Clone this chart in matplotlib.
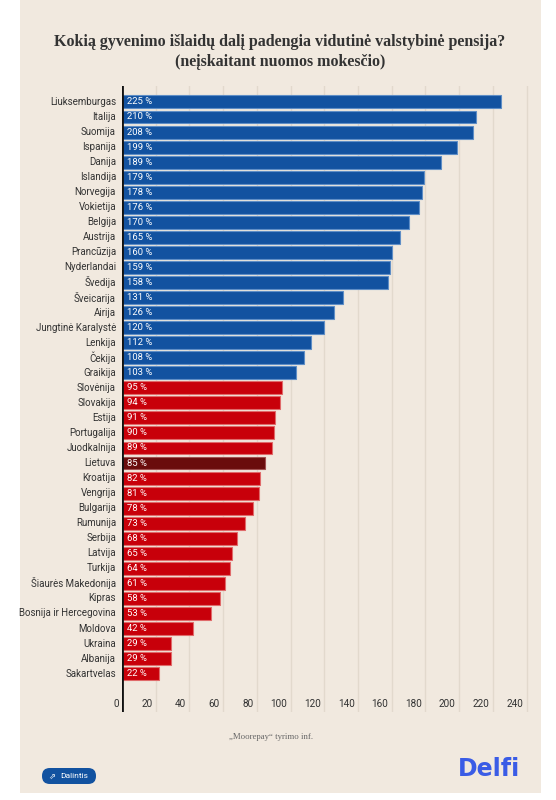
import matplotlib
matplotlib.use("Agg")
import matplotlib.pyplot as plt
from matplotlib.patches import Rectangle, FancyBboxPatch

# data
countries = ["Liuksemburgas", "Italija", "Suomija", "Ispanija", "Danija", "Islandija",
             "Norvegija", "Vokietija", "Belgija", "Austrija", "Prancūzija", "Nyderlandai",
             "Švedija", "Šveicarija", "Airija", "Jungtinė Karalystė", "Lenkija", "Čekija",
             "Graikija", "Slovėnija", "Slovakija", "Estija", "Portugalija", "Juodkalnija",
             "Lietuva", "Kroatija", "Vengrija", "Bulgarija", "Rumunija", "Serbija", "Latvija",
             "Turkija", "Šiaurės Makedonija", "Kipras", "Bosnija ir Hercegovina", "Moldova",
             "Ukraina", "Albanija", "Sakartvelas"]
values = [225, 210, 208, 199, 189, 179, 178, 176, 170, 165, 160, 159, 158, 131, 126, 120,
          112, 108, 103, 95, 94, 91, 90, 89, 85, 82, 81, 78, 73, 68, 65, 64, 61, 58, 53,
          42, 29, 29, 22]
x_ticks = [0, 20, 40, 60, 80, 100, 120, 140, 160, 180, 200, 220, 240]
highlight = "Lietuva"

BG = "#f1e9df"
BLUE = "#1252a0"
RED = "#c8000a"
DARK = "#6a0c0c"

label_font = ["Roboto", "DejaVu Sans"]
serif_font = ["Liberation Serif", "DejaVu Serif"]

W, H = 556, 800
fig = plt.figure(figsize=(W / 100, H / 100), dpi=100, facecolor="white")

# card background
fig.add_artist(Rectangle((20 / W, 1 - 793 / H), 521 / W, 793 / H, transform=fig.transFigure,
                         facecolor=BG, edgecolor="none", zorder=0))

ax = fig.add_axes([122 / W, 1 - 712 / H, (535 - 122) / W, (712 - 86) / H])
ax.set_facecolor("none")

n = len(countries)
ypos = list(range(n))
colors = []
for c, v in zip(countries, values):
    if c == highlight:
        colors.append(DARK)
    elif v >= 100:
        colors.append(BLUE)
    else:
        colors.append(RED)
edge_map = {BLUE: "#5f8ec6", RED: "#e06a6a", DARK: "#a05050"}
edges = [edge_map[col] for col in colors]

ax.barh(ypos, values, height=0.86, color=colors, edgecolor=edges, linewidth=0.8, zorder=3)

for y, c, v in zip(ypos, countries, values):
    ax.text(-3.5, y, c, ha="right", va="center", fontsize=7, color="#333333",
            family=label_font)
    ax.text(3, y, f"{v} %", ha="left", va="center", fontsize=6.8, color="white",
            family=label_font, zorder=4)

ax.set_xlim(0, 245)
ax.set_ylim(n + 1.55, -1.06)

for t in x_ticks:
    if t > 0:
        ax.axvline(t, color="#e2d9cd", linewidth=1, zorder=1)
    ax.text(t - 2, n + 1.0, str(t), ha="right", va="center", fontsize=7.2, color="#333333",
            family=label_font)
ax.axvline(0, color="#111111", linewidth=2, zorder=5)

ax.set_xticks([])
ax.set_yticks([])
for s in ax.spines.values():
    s.set_visible(False)

# title
fig.text(280 / W, 1 - 42 / H, "Kokią gyvenimo išlaidų dalį padengia vidutinė valstybinė pensija?",
         ha="center", va="center", fontsize=11.5, fontweight="bold", color="#333333",
         family=serif_font)
fig.text(280 / W, 1 - 62 / H, "(neįskaitant nuomos mokesčio)",
         ha="center", va="center", fontsize=11.5, fontweight="bold", color="#333333",
         family=serif_font)

# source
fig.text(271 / W, 1 - 737 / H, "„Moorepay“ tyrimo inf.", ha="center", va="center",
         fontsize=6.3, color="#666666", family=serif_font)

# share button
fig.add_artist(FancyBboxPatch((42 / W, 1 - 784 / H), 54 / W, 16 / H,
                              boxstyle="round,pad=0,rounding_size=0.014",
                              transform=fig.transFigure, facecolor="#1252a0",
                              edgecolor="none", mutation_aspect=W / H))
fig.text(74 / W, 1 - 776 / H, "Dalintis", ha="center", va="center", fontsize=6,
         color="white", family=label_font)
fig.text(52 / W, 1 - 776 / H, "⇗", ha="center", va="center", fontsize=6, color="white",
         family="DejaVu Sans")

# logo
fig.text(520 / W, 1 - 769 / H, "Delfi", ha="right", va="center", fontsize=17,
         fontweight="bold", color="#3a5ce6", family="DejaVu Sans")

fig.savefig("out.png", dpi=100, facecolor="white")
